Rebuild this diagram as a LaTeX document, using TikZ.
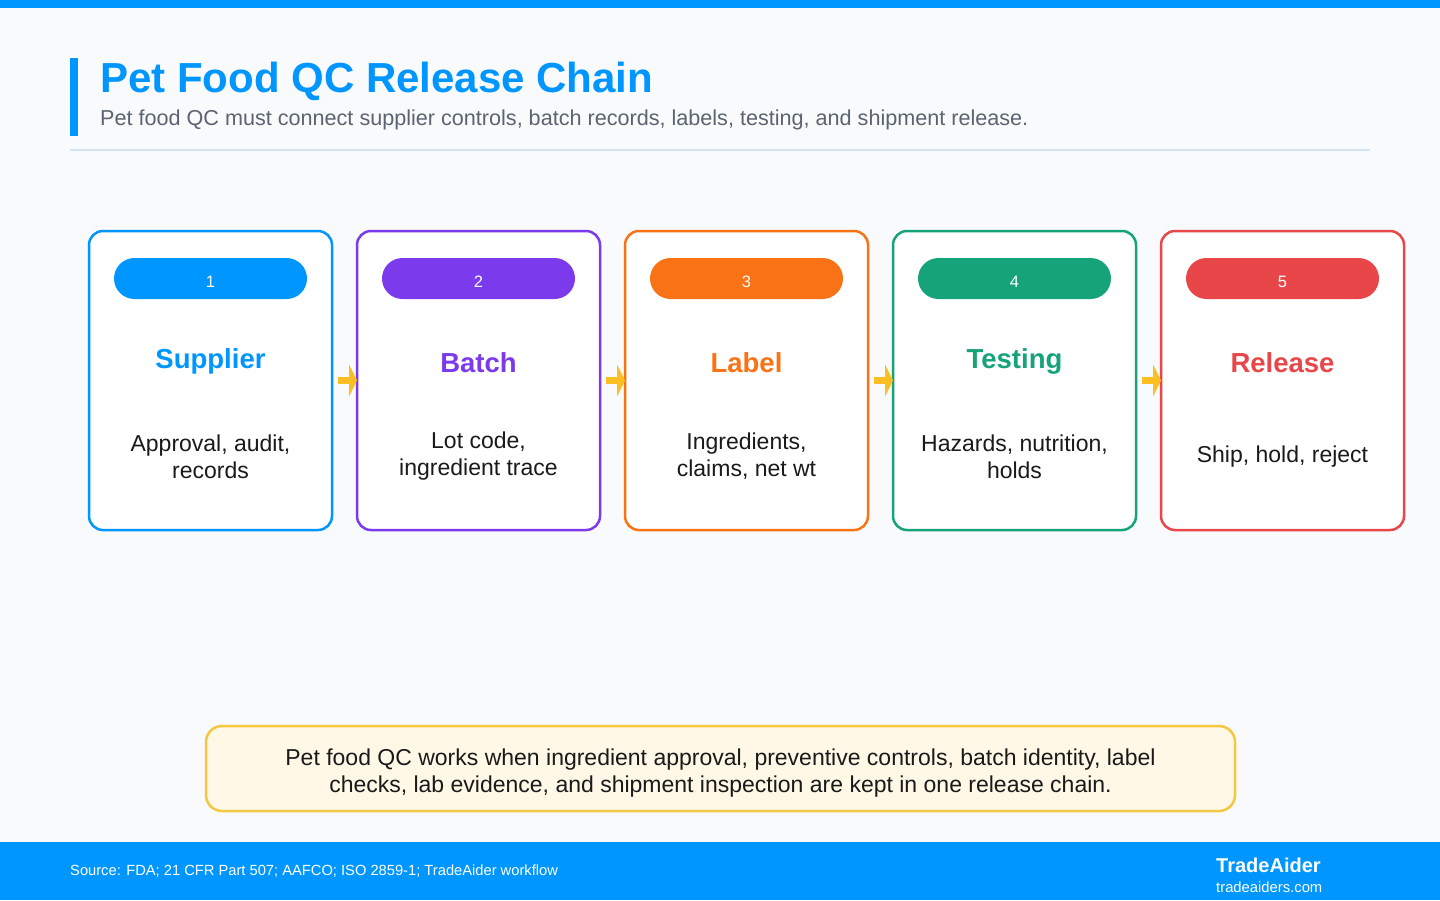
\documentclass[tikz,border=0pt]{standalone}
\usepackage{fontspec}
\setmainfont{Liberation Sans}
\usetikzlibrary{arrows.meta}
\definecolor{bg}{HTML}{F8FAFC}
\definecolor{cblue}{HTML}{0096FF}
\definecolor{cpurple}{HTML}{7C3AED}
\definecolor{corange}{HTML}{F97316}
\definecolor{cgreen}{RGB}{22,163,122}
\definecolor{cred}{RGB}{232,70,72}
\definecolor{cyellow}{HTML}{FBBF24}
\definecolor{notefill}{HTML}{FFF8E6}
\definecolor{noteborder}{HTML}{F5C842}
\definecolor{sepline}{HTML}{D3E3F0}
\definecolor{subgray}{HTML}{5B6470}
\definecolor{bodytext}{HTML}{1A1A1A}
\tikzset{
  stagebox/.style={draw, fill=white, line width=2.5pt, rounded corners=14pt,
    minimum width=243pt, minimum height=299pt, inner sep=0pt, outer sep=0pt},
  badge/.style={rounded corners=20.5pt, minimum width=193pt, minimum height=41pt,
    inner sep=0pt, text=white, text height=17pt, text depth=0pt,
    font=\fontsize{16.5}{19}\selectfont},
  stagetitle/.style={anchor=base, inner sep=0pt, font=\bfseries\fontsize{27.5}{32}\selectfont},
  stagedesc/.style={anchor=base, inner sep=0pt, align=center, text=bodytext,
    font=\fontsize{23}{27}\selectfont},
  flowarrow/.style={draw=cyellow, line width=7pt, -{Triangle[length=8pt,width=32pt]}}
}
\begin{document}
\begin{tikzpicture}[x=1pt,y=-1pt]
\useasboundingbox (0,0) rectangle (1440,900);
\fill[bg] (0,0) rectangle (1440,900);
\fill[cblue] (0,0) rectangle (1440,8);
% header
\fill[cblue] (70,58) rectangle (78,136);
\node[anchor=base west, inner sep=0pt, text=cblue, font=\bfseries\fontsize{42}{50}\selectfont] (title) at (100,92) {Pet Food QC Release Chain};
\node[anchor=base west, inner sep=0pt, text=subgray, font=\fontsize{21.6}{26}\selectfont] (subtitle) at (100,125) {Pet food QC must connect supplier controls, batch records, labels, testing, and shipment release.};
\draw[sepline, line width=2pt] (70,150) -- (1370,150);
% boxes
\node[stagebox, draw=cblue] (b1) at (210.5,380.5) {};
\node[stagebox, draw=cpurple] (b2) at (478.5,380.5) {};
\node[stagebox, draw=corange] (b3) at (746.5,380.5) {};
\node[stagebox, draw=cgreen] (b4) at (1014.5,380.5) {};
\node[stagebox, draw=cred] (b5) at (1282.5,380.5) {};
% arrows
\draw[flowarrow] ([xshift=6pt]b1.east) -- (b2.west);
\draw[flowarrow] ([xshift=6pt]b2.east) -- (b3.west);
\draw[flowarrow] ([xshift=6pt]b3.east) -- (b4.west);
\draw[flowarrow] ([xshift=6pt]b4.east) -- (b5.west);
% badges
\node[badge, fill=cblue] (n1) at (210.5,278.5) {1};
\node[badge, fill=cpurple] (n2) at (478.5,278.5) {2};
\node[badge, fill=corange] (n3) at (746.5,278.5) {3};
\node[badge, fill=cgreen] (n4) at (1014.5,278.5) {4};
\node[badge, fill=cred] (n5) at (1282.5,278.5) {5};
% titles
\node[stagetitle, text=cblue] (t1) at (210.5,368) {Supplier};
\node[stagetitle, text=cpurple] (t2) at (478.5,372) {Batch};
\node[stagetitle, text=corange] (t3) at (746.5,372) {Label};
\node[stagetitle, text=cgreen] (t4) at (1014.5,368) {Testing};
\node[stagetitle, text=cred] (t5) at (1282.5,372) {Release};
% descriptions (base = last line baseline)
\node[stagedesc] (d1) at (210.5,478) {Approval, audit,\\records};
\node[stagedesc] (d2) at (478.5,475) {Lot code,\\ingredient trace};
\node[stagedesc] (d3) at (746.5,476) {Ingredients,\\claims, net wt};
\node[stagedesc] (d4) at (1014.5,478) {Hazards, nutrition,\\holds};
\node[stagedesc] (d5) at (1282.5,462) {Ship, hold, reject};
% note
\node[draw=noteborder, fill=notefill, line width=2.5pt, rounded corners=16pt,
  minimum width=1029pt, minimum height=85pt, inner sep=0pt] (note) at (720.5,768.5) {};
\node[stagedesc] (notetext) at (720.5,792) {Pet food QC works when ingredient approval, preventive controls, batch identity, label\\checks, lab evidence, and shipment inspection are kept in one release chain.};
% footer
\fill[cblue] (0,842) rectangle (1440,900);
\node[anchor=base west, inner sep=0pt, text=white, font=\fontsize{14.7}{17}\selectfont] (source) at (70,875) {Source: FDA; 21 CFR Part 507; AAFCO; ISO 2859-1; TradeAider workflow};
\node[anchor=base west, inner sep=0pt, text=white, font=\bfseries\fontsize{20}{24}\selectfont] (brand) at (1216,872) {TradeAider};
\node[anchor=base west, inner sep=0pt, text=white, font=\fontsize{14.8}{18}\selectfont] (url) at (1216,892) {tradeaiders.com};
\end{tikzpicture}
\end{document}
